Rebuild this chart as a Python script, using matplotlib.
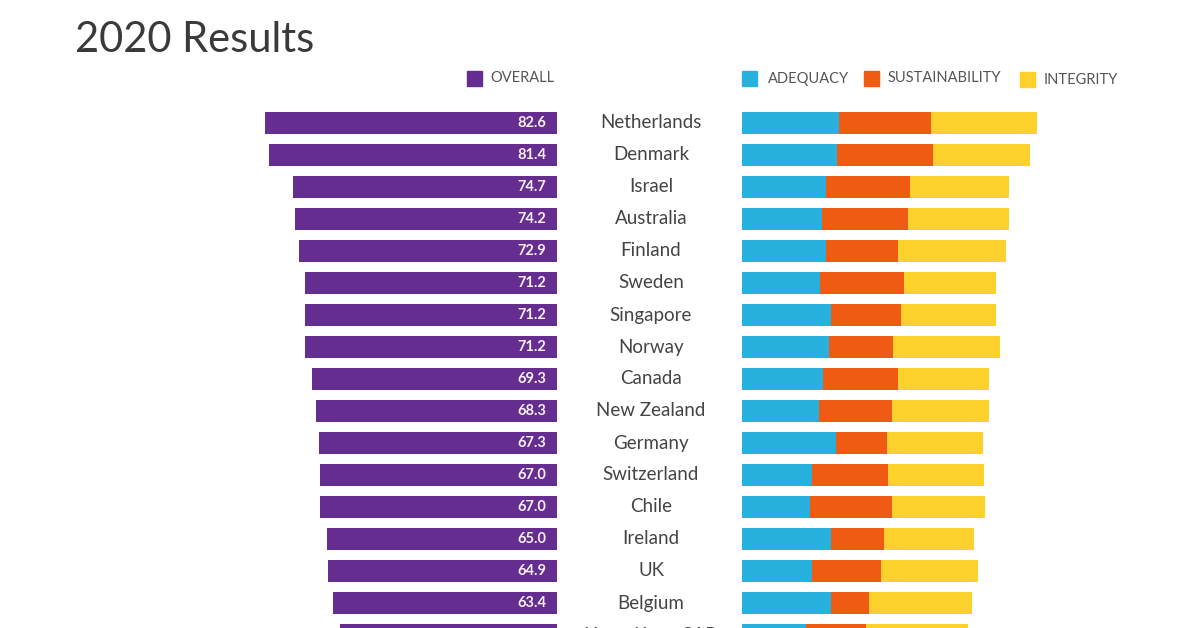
import numpy as np
import matplotlib.pyplot as plt
from matplotlib.patches import Rectangle
from matplotlib import transforms

plt.rcParams['font.family'] = ['Lato', 'DejaVu Sans']

countries = ['Netherlands', 'Denmark', 'Israel', 'Australia', 'Finland', 'Sweden',
             'Singapore', 'Norway', 'Canada', 'New Zealand', 'Germany', 'Switzerland',
             'Chile', 'Ireland', 'UK', 'Belgium', 'Hong Kong SAR']
overall = [82.6, 81.4, 74.7, 74.2, 72.9, 71.2, 71.2, 71.2, 69.3, 68.3, 67.3, 67.0,
           67.0, 65.0, 64.9, 63.4, 61.4]
adequacy = [82.1, 80.6, 71.6, 67.7, 71.6, 66.6, 75.6, 74.2, 69.1, 65.4, 79.5, 59.8,
            57.5, 75.6, 59.8, 75.6, 54.7]
sustainability = [78.4, 81.5, 71.0, 73.6, 60.5, 70.7, 59.2, 54.0, 63.1, 61.7, 43.5, 64.5,
                  69.6, 45.0, 58.2, 32.0, 50.3]
integrity = [89.5, 82.7, 84.0, 85.4, 91.7, 78.7, 81.2, 90.6, 77.5, 82.6, 81.5, 81.5,
             78.9, 76.1, 82.7, 88.0, 86.8]

PURPLE = '#652d8f'
BLUE = '#29b1dd'
ORANGE = '#ef5b12'
YELLOW = '#fdd12b'
W, H = 1200, 628

fig = plt.figure(figsize=(12, 6.28), dpi=100)
fig.patch.set_facecolor('white')

y = np.arange(len(countries))
bh = 0.69
ax_h = 528 / H
ylims = (15.78125, -0.71875)

# left: overall score, growing leftwards
ax1 = fig.add_axes([200 / W, 0, 357 / W, ax_h])
ax1.barh(y, overall, height=bh, color=PURPLE)
ax1.set_xlim(357 / 3.535, 0)
ax1.set_ylim(*ylims)
for yi, v in zip(y, overall):
    ax1.text(3.1, yi, f'{v:.1f}', ha='right', va='center', color='#f6f0fa',
             fontsize=10.5, fontweight='bold')

# right: sub-indices stacked
ax2 = fig.add_axes([742 / W, 0, 358 / W, ax_h])
a = np.array(adequacy)
s = np.array(sustainability)
i = np.array(integrity)
ax2.barh(y, a, height=bh, color=BLUE)
ax2.barh(y, s, left=a, height=bh, color=ORANGE)
ax2.barh(y, i, left=a + s, height=bh, color=YELLOW)
ax2.set_xlim(0, 358 / 1.178)
ax2.set_ylim(*ylims)

for ax in (ax1, ax2):
    ax.axis('off')

# country names in the middle column
tr = transforms.blended_transform_factory(fig.transFigure, ax1.transData)
for yi, c in zip(y, countries):
    ax1.text(651 / W, yi, c, transform=tr, ha='center', va='center',
             fontsize=13.5, color='#444444', clip_on=False)

# title
fig.text(75 / W, 1 - 52 / H, '2020 Results', fontsize=30, color='#3a3a3a',
         ha='left', va='baseline')

# legends
def legend_item(x_sq, x_txt, color, label, yc=78.5):
    fig.patches.append(Rectangle((x_sq / W, 1 - (yc + 7.5) / H), 15 / W, 15 / H,
                                 transform=fig.transFigure, color=color))
    fig.text(x_txt / W, 1 - yc / H, label, fontsize=10.5, color='#555555',
             ha='left', va='center')

legend_item(467, 490, PURPLE, 'OVERALL')
legend_item(742, 768, BLUE, 'ADEQUACY')
legend_item(864, 888, ORANGE, 'SUSTAINABILITY')
legend_item(1020, 1044, YELLOW, 'INTEGRITY', yc=79.5)

fig.savefig('out.png', dpi=100)
